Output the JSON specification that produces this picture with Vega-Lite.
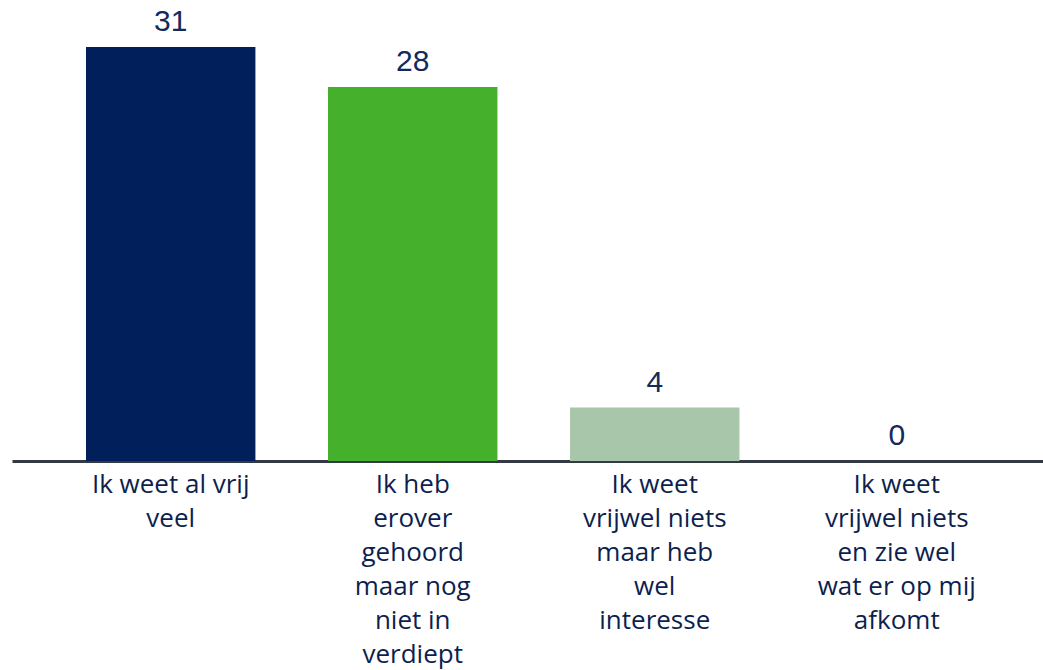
{
  "$schema": "https://vega.github.io/schema/vega-lite/v6.json",
  "width": 1031,
  "height": 414,
  "padding": {"left": 12, "right": 0, "top": 47, "bottom": 209},
  "autosize": {"type": "none"},
  "background": "white",
  "config": {"view": {"stroke": null}},
  "data": {
    "values": [
      {"cat": "Ik weet al vrij|veel", "value": 31},
      {"cat": "Ik heb|erover|gehoord|maar nog|niet in|verdiept", "value": 28},
      {"cat": "Ik weet|vrijwel niets|maar heb|wel|interesse", "value": 4},
      {"cat": "Ik weet|vrijwel niets|en zie wel|wat er op mij|afkomt", "value": 0}
    ]
  },
  "encoding": {
    "x": {
      "field": "cat",
      "type": "nominal",
      "sort": null,
      "scale": {"paddingInner": 0.3, "paddingOuter": 0.28, "align": 0.546},
      "axis": {
        "title": null,
        "labelAngle": 0,
        "labelExpr": "split(datum.label, '|')",
        "labelFont": "Open Sans",
        "labelFontSize": 26,
        "labelLineHeight": 34,
        "labelColor": "#0d1f4e",
        "labelPadding": 10,
        "ticks": false,
        "domainColor": "#333a45",
        "domainWidth": 3,
        "labelLimit": 0
      }
    },
    "y": {
      "field": "value",
      "type": "quantitative",
      "scale": {"domain": [0, 31], "nice": false},
      "axis": null
    }
  },
  "layer": [
    {
      "mark": {"type": "bar"},
      "encoding": {
        "color": {
          "field": "cat",
          "type": "nominal",
          "scale": {
            "domain": [
              "Ik weet al vrij|veel",
              "Ik heb|erover|gehoord|maar nog|niet in|verdiept",
              "Ik weet|vrijwel niets|maar heb|wel|interesse",
              "Ik weet|vrijwel niets|en zie wel|wat er op mij|afkomt"
            ],
            "range": ["#001f5b", "#45b02b", "#a8c6a9", "#cccccc"]
          },
          "legend": null
        }
      }
    },
    {
      "mark": {
        "type": "text",
        "baseline": "bottom",
        "dy": -10,
        "font": "Liberation Sans",
        "fontSize": 30,
        "color": "#142a5c"
      },
      "encoding": {"text": {"field": "value", "type": "quantitative"}}
    }
  ]
}
